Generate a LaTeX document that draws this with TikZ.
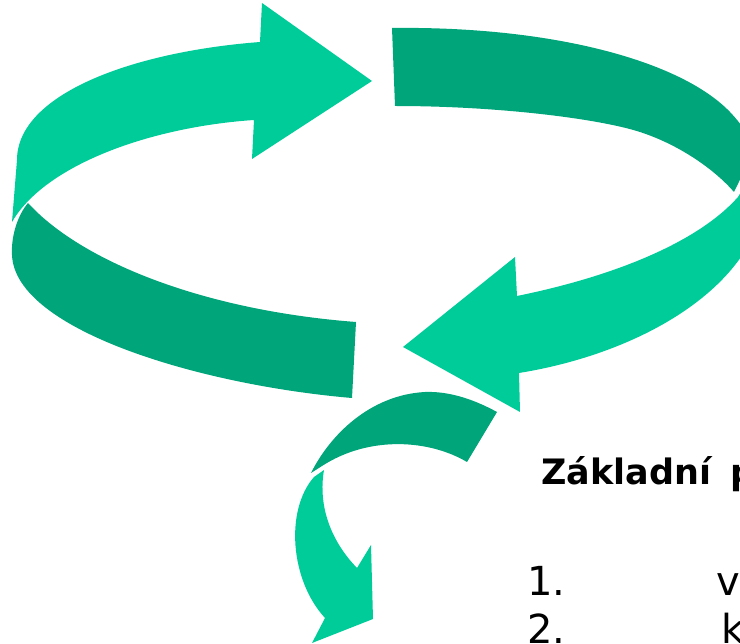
\documentclass[tikz,border=0pt]{standalone}
\usepackage{fontspec}
\setmainfont[WordSpace=1.6]{DejaVu Sans}
\definecolor{ribbonlight}{RGB}{0,204,153}
\definecolor{ribbondark}{RGB}{0,165,122}

\begin{document}
\begin{tikzpicture}[x=1pt,y=-1pt,
  light/.style={fill=ribbonlight},
  dark/.style={fill=ribbondark},
  lbl/.style={anchor=base west, inner sep=0pt, font=\fontsize{40}{48}\selectfont},
  heading/.style={anchor=base west, inner sep=0pt, font=\fontsize{35}{42}\selectfont\bfseries}]
\useasboundingbox (0,0) rectangle (740,644);
\clip (0,0) rectangle (740,644);

% front-left band (dark, outer face)
\fill[dark] (28,203) .. controls (80,260) and (200,310) .. (356,322)
  -- (352,398)
  .. controls (200,385) and (15,330) .. (12,255)
  .. controls (11,235) and (18,215) .. (28,203) -- cycle;

% back-left band with arrow head (light, inner face)
\fill[light] (17,160) .. controls (17,95) and (130,52) .. (260,42)
  -- (262,3) -- (372,81) -- (252,159) -- (254,120)
  .. controls (150,127) and (45,165) .. (12,222)
  -- cycle;

% back-right band (dark, inner face)
\fill[dark] (392,28) .. controls (550,26) and (680,60) .. (730,112)
  .. controls (745,128) and (752,140) .. (752,155)
  -- (734,192)
  .. controls (715,170) and (680,145) .. (640,132)
  .. controls (600,119) and (500,106) .. (395,106)
  -- cycle;

% front-right band with arrow head (light, outer face)
\fill[light] (752,174) -- (738,197)
  .. controls (700,240) and (620,275) .. (517,296)
  -- (515,257) -- (403,347) -- (520,412) -- (519,373)
  .. controls (630,355) and (730,300) .. (758,225)
  -- cycle;

% small outgoing band (dark)
\fill[dark] (311,473) .. controls (330,435) and (370,395) .. (425,392)
  .. controls (450,391) and (475,400) .. (497,412)
  -- (467,462)
  .. controls (430,440) and (370,435) .. (322,466)
  -- cycle;

% outgoing arrow (light)
\fill[light] (314,477) -- (324,470)
  .. controls (318,505) and (330,540) .. (357,568)
  -- (371,545) -- (373,619) -- (312,643) -- (325,618)
  .. controls (290,580) and (285,510) .. (314,477)
  -- cycle;

% text
\node[heading] (title) at (541,485) {Základní p};
\node[lbl] (n1) at (527,595) {1.};
\node[lbl] (t1) at (716,595) {v};
\node[lbl] (n2) at (527,644) {2.};
\node[lbl] (t2) at (721,644) {k};
\end{tikzpicture}
\end{document}
